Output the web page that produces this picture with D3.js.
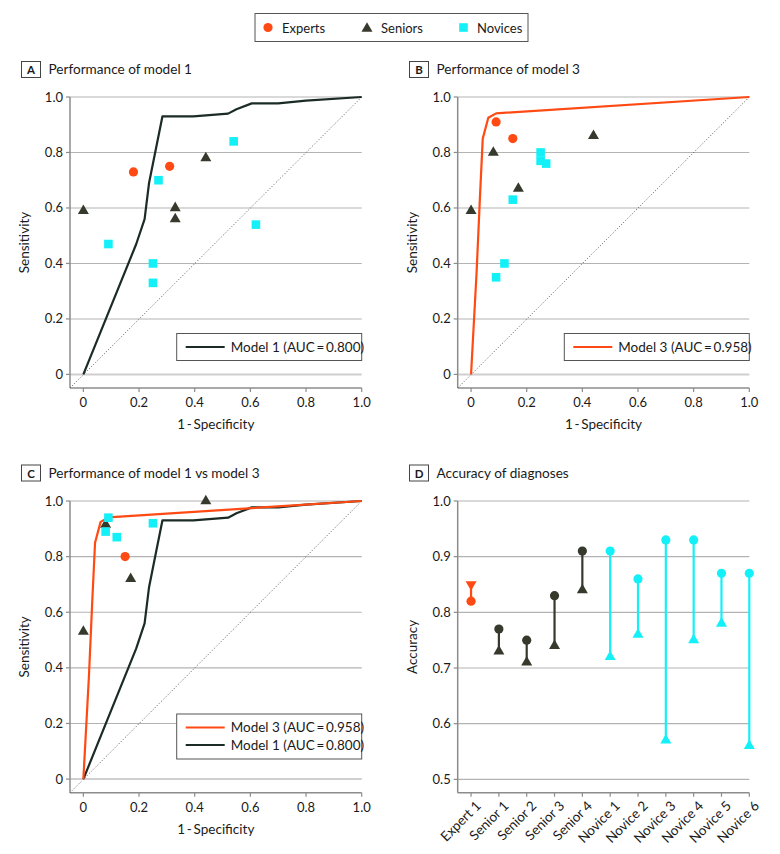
<!DOCTYPE html>
<html><head><meta charset="utf-8">
<script src="https://cdn.jsdelivr.net/npm/d3@7/dist/d3.min.js"></script>
<style>body{margin:0;background:#fff} text{font-family:Lato, "Open Sans", sans-serif; fill:#1a1a1a}</style>
</head><body><svg id="c" width="780" height="854"></svg>
<script>
// ---------- DATA ----------
const model1ROC = [[0,0],[0.19,0.47],[0.22,0.56],[0.236,0.69],[0.26,0.81],[0.284,0.93],[0.395,0.93],[0.52,0.94],[0.55,0.956],[0.605,0.977],[0.70,0.977],[0.80,0.987],[1,1]];
const model3ROC = [[0,0],[0.02,0.37],[0.032,0.64],[0.042,0.85],[0.062,0.925],[0.09,0.941],[1,1]];

const aExperts = [[0.18,0.73],[0.31,0.75]];
const aSeniors = [[0,0.59],[0.44,0.78],[0.33,0.60],[0.33,0.56]];
const aNovices = [[0.54,0.84],[0.27,0.70],[0.09,0.47],[0.25,0.40],[0.25,0.33],[0.62,0.54]];

const bExperts = [[0.09,0.91],[0.15,0.85]];
const bSeniors = [[0,0.59],[0.08,0.80],[0.17,0.67],[0.44,0.86]];
const bNovices = [[0.25,0.80],[0.25,0.77],[0.27,0.76],[0.15,0.63],[0.12,0.40],[0.09,0.35]];

const cExperts = [[0.15,0.80]];
const cSeniors = [[0.44,1.0],[0.17,0.72],[0,0.53],[0.08,0.915]];
const cNovices = [[0.09,0.94],[0.08,0.89],[0.12,0.87],[0.25,0.92]];

const categories = ["Expert 1","Senior 1","Senior 2","Senior 3","Senior 4","Novice 1","Novice 2","Novice 3","Novice 4","Novice 5","Novice 6"];
const groups = ["Expert","Senior","Senior","Senior","Senior","Novice","Novice","Novice","Novice","Novice","Novice"];
const accCircle   = [0.82,0.77,0.75,0.83,0.91,0.91,0.86,0.93,0.93,0.87,0.87];
const accTriangle = [0.85,0.73,0.71,0.74,0.84,0.72,0.76,0.57,0.75,0.78,0.56];

const rocTicks = [0,0.2,0.4,0.6,0.8,1.0];
const accTicks = [0.5,0.6,0.7,0.8,0.9,1.0];
const legendLabels = ["Experts","Seniors","Novices"];

// ---------- STYLE ----------
const RED = "#ff4a14", DARK = "#363a2c", CYAN = "#14f0f8", M1 = "#1b2b25";
const colorOf = {Expert: RED, Senior: DARK, Novice: CYAN};
const svg = d3.select("#c");

function tri(s, down) {
  const h = s * Math.sqrt(3) / 2;
  if (down) return `M${-s/2},${-h/3}L${s/2},${-h/3}L0,${2*h/3}Z`;
  return `M0,${-2*h/3}L${s/2},${h/3}L${-s/2},${h/3}Z`;
}
function drawCircle(g, x, y) { g.append("circle").attr("cx", x).attr("cy", y).attr("r", 4.6).attr("fill", RED); }
function drawTri(g, x, y, col, down) { g.append("path").attr("d", tri(11, down)).attr("transform", `translate(${x},${y})`).attr("fill", col); }
function drawSquare(g, x, y) { g.append("rect").attr("x", x-4.3).attr("y", y-4.3).attr("width", 8.6).attr("height", 8.6).attr("fill", CYAN); }

function panelTitle(x, y, letter, title) {
  svg.append("rect").attr("x", x).attr("y", y).attr("width", 19).attr("height", 16).attr("fill", "#fff").attr("stroke", "#444").attr("stroke-width", 1);
  svg.append("text").attr("x", x+9.5).attr("y", y+12.5).attr("text-anchor", "middle").attr("font-size", 11.5).attr("font-weight", "bold").text(letter);
  svg.append("text").attr("x", x+27).attr("y", y+12.5).attr("font-size", 13.6).text(title);
}

function axesFrame(g, xs, ys, yTicks, yFmt, xTicksVals, xFmt, zeroLight) {
  const [x0, x1] = xs.range();
  const [yb, yt] = ys.range();
  yTicks.forEach(t => {
    const light = zeroLight && t === 0;
    g.append("line").attr("x1", x0).attr("x2", x1).attr("y1", ys(t)).attr("y2", ys(t))
      .attr("stroke", light ? "#cfcfcf" : "#b3b3b3").attr("stroke-width", light ? 2 : 1.1);
  });
  g.append("line").attr("x1", x0).attr("x2", x0).attr("y1", yt).attr("y2", yb).attr("stroke", "#8c8c8c").attr("stroke-width", 1.5);
  g.append("line").attr("x1", x0).attr("x2", x1).attr("y1", yb).attr("y2", yb).attr("stroke", "#8c8c8c").attr("stroke-width", 1.5);
  yTicks.forEach(t => {
    g.append("line").attr("x1", x0-4).attr("x2", x0).attr("y1", ys(t)).attr("y2", ys(t)).attr("stroke", "#8c8c8c").attr("stroke-width", 1.2);
    g.append("text").attr("x", x0-7).attr("y", ys(t)+4.5).attr("text-anchor", "end").attr("font-size", 13).text(yFmt(t));
  });
  xTicksVals.forEach(t => {
    g.append("line").attr("x1", xs(t)).attr("x2", xs(t)).attr("y1", yb).attr("y2", yb+4).attr("stroke", "#8c8c8c").attr("stroke-width", 1.2);
    if (xFmt) g.append("text").attr("x", xs(t)).attr("y", yb+19).attr("text-anchor", "middle").attr("font-size", 13).text(xFmt(t));
  });
}

const rocFmt = d => d === 0 ? "0" : d.toFixed(1);

function rocPanel(xr, yr, curves, experts, seniors, novices, legendBox) {
  const g = svg.append("g");
  const xs = d3.scaleLinear().domain([-0.048, 1]).range(xr);
  const ys = d3.scaleLinear().domain([-0.049, 1]).range(yr);
  axesFrame(g, xs, ys, rocTicks, rocFmt, rocTicks, rocFmt, true);
  g.append("line").attr("x1", xs(-0.048)).attr("y1", ys(-0.049)).attr("x2", xs(1)).attr("y2", ys(1))
    .attr("stroke", "#555").attr("stroke-width", 1).attr("stroke-dasharray", "1,2");
  const line = d3.line().x(d => xs(d[0])).y(d => ys(d[1]));
  curves.forEach(c => g.append("path").attr("d", line(c.data)).attr("fill", "none").attr("stroke", c.color).attr("stroke-width", 2.2).attr("stroke-linejoin", "round"));
  experts.forEach(p => drawCircle(g, xs(p[0]), ys(p[1])));
  seniors.forEach(p => drawTri(g, xs(p[0]), ys(p[1]), DARK, false));
  novices.forEach(p => drawSquare(g, xs(p[0]), ys(p[1])));
  const cx = (xr[0] + xr[1]) / 2;
  g.append("text").attr("x", cx).attr("y", yr[0] + 41).attr("text-anchor", "middle").attr("font-size", 13.5).text("1\u2009-\u2009Specificity");
  g.append("text").attr("transform", `translate(${xr[0]-41},${(yr[0]+yr[1])/2}) rotate(-90)`).attr("text-anchor", "middle").attr("font-size", 13.5).text("Sensitivity");
  const lb = legendBox;
  const lh = 18 * curves.length + 9;
  g.append("rect").attr("x", xs(1) - lb.w).attr("y", lb.y).attr("width", lb.w).attr("height", lh).attr("fill", "#fff").attr("stroke", "#555").attr("stroke-width", 1);
  lb.order.forEach((ci, i) => {
    const c = curves[ci];
    const yy = lb.y + 13.5 + i * 17.5;
    const lx = xs(1) - lb.w + 9;
    g.append("line").attr("x1", lx).attr("x2", lx + 39).attr("y1", yy).attr("y2", yy).attr("stroke", c.color).attr("stroke-width", 2.2);
    g.append("text").attr("x", lx + 45).attr("y", yy + 4.5).attr("font-size", 13.5).text(c.label);
  });
}

// ---------- TOP LEGEND ----------
svg.append("rect").attr("x", 255).attr("y", 13.5).attr("width", 273).attr("height", 28).attr("fill", "#fff").attr("stroke", "#555").attr("stroke-width", 1);
drawCircle(svg, 268, 27.5);
svg.append("text").attr("x", 282).attr("y", 32.5).attr("font-size", 13).text(legendLabels[0]);
drawTri(svg, 367, 28.5, DARK, false);
svg.append("text").attr("x", 381).attr("y", 32.5).attr("font-size", 13).text(legendLabels[1]);
drawSquare(svg, 463.5, 27.5);
svg.append("text").attr("x", 477).attr("y", 32.5).attr("font-size", 13).text(legendLabels[2]);

// ---------- PANELS ----------
panelTitle(21.5, 61.5, "A", "Performance of model 1");
panelTitle(409.5, 61.5, "B", "Performance of model 3");
panelTitle(21.5, 465, "C", "Performance of model 1 vs model 3");
panelTitle(409.5, 465, "D", "Accuracy of diagnoses");

const lab1 = "Model 1 (AUC\u2009=\u20090.800)", lab3 = "Model 3 (AUC\u2009=\u20090.958)";
rocPanel([70, 361.7], [388, 97],
  [{data: model1ROC, color: M1, label: lab1}],
  aExperts, aSeniors, aNovices, {w: 185, y: 333.5, order: [0]});
rocPanel([457.7, 749.3], [388, 97],
  [{data: model3ROC, color: RED, label: lab3}],
  bExperts, bSeniors, bNovices, {w: 185, y: 333.5, order: [0]});
rocPanel([70, 361.7], [792.7, 501],
  [{data: model1ROC, color: M1, label: lab1}, {data: model3ROC, color: RED, label: lab3}],
  cExperts, cSeniors, cNovices, {w: 185, y: 714, order: [1, 0]});

// ---------- PANEL D ----------
(function () {
  const g = svg.append("g");
  const xs = d3.scaleLinear().domain([-0.48, categories.length - 1]).range([457.7, 749.3]);
  const ys = d3.scaleLinear().domain([0.476, 1.0]).range([792.7, 501]);
  axesFrame(g, xs, ys, accTicks, d => d.toFixed(1), d3.range(categories.length), null, false);
  categories.forEach((c, i) => {
    g.append("text").attr("transform", `translate(${xs(i)+4},${800}) rotate(-45)`).attr("text-anchor", "end").attr("dy", "0.7em").attr("font-size", 13.5).text(c);
  });
  categories.forEach((c, i) => {
    const col = colorOf[groups[i]];
    const x = xs(i);
    g.append("line").attr("x1", x).attr("x2", x).attr("y1", ys(accCircle[i])).attr("y2", ys(accTriangle[i])).attr("stroke", col).attr("stroke-width", 2.2);
    g.append("circle").attr("cx", x).attr("cy", ys(accCircle[i])).attr("r", 4.6).attr("fill", col);
    drawTri(g, x, ys(accTriangle[i]), col, accTriangle[i] > accCircle[i]);
  });
  g.append("text").attr("transform", `translate(${416.7},${(501+792.7)/2}) rotate(-90)`).attr("text-anchor", "middle").attr("font-size", 13.5).text("Accuracy");
})();
</script></body></html>
